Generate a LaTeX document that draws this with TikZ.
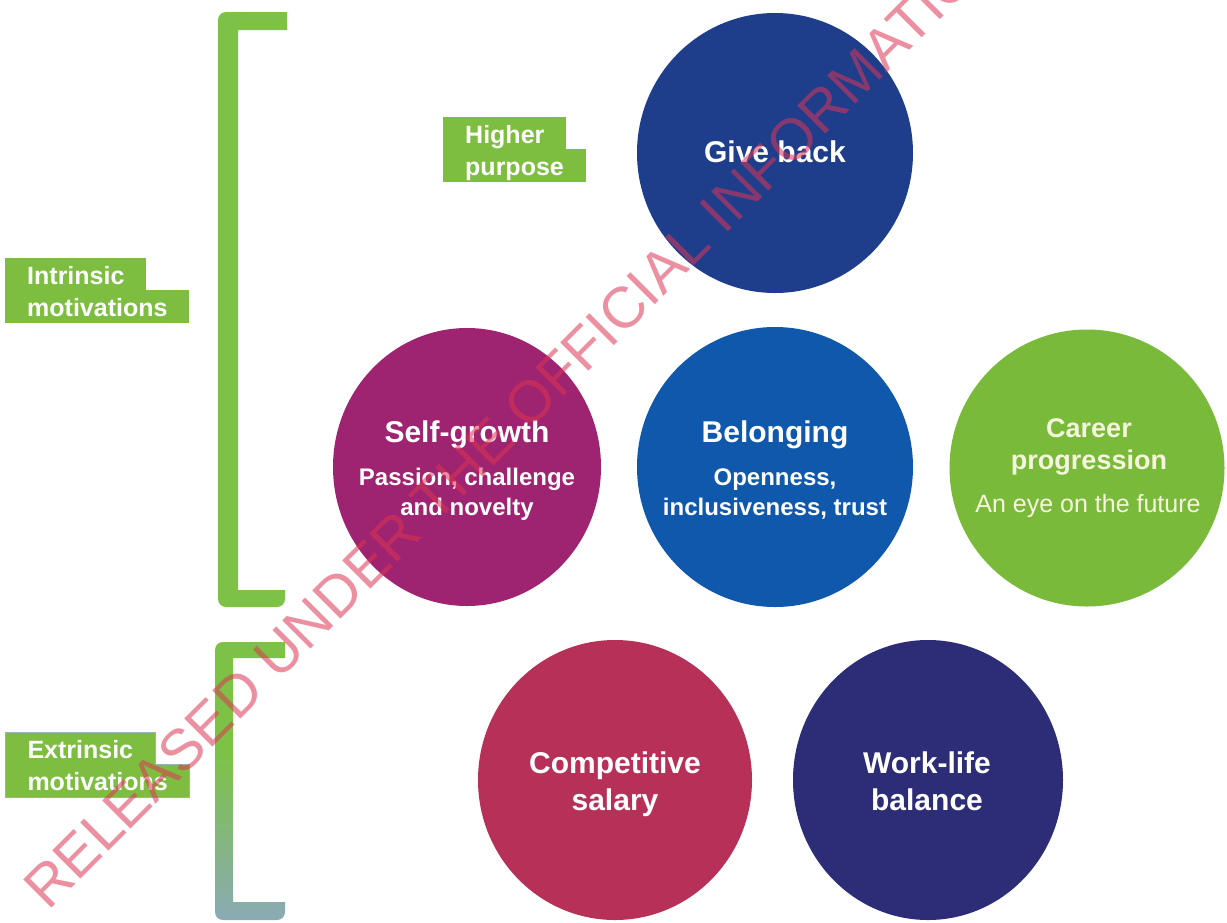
\documentclass[tikz,border=0pt]{standalone}
\usepackage{fontspec}
\setmainfont{Liberation Sans}
\usetikzlibrary{shapes.geometric}

\definecolor{tagGreen}{RGB}{125,190,65}
\definecolor{barGreen}{RGB}{125,194,70}
\definecolor{barBlue}{RGB}{140,168,192}
\definecolor{tagEdge}{RGB}{150,180,180}
\definecolor{giveBlue}{RGB}{30,62,140}
\definecolor{selfPlum}{RGB}{158,35,112}
\definecolor{belongBlue}{RGB}{16,88,172}
\definecolor{careerGreen}{RGB}{122,186,58}
\definecolor{salaryRose}{RGB}{182,48,88}
\definecolor{workNavy}{RGB}{44,45,118}
\definecolor{creamText}{RGB}{246,246,222}
\definecolor{stampRed}{RGB}{222,52,82}

% lower bracket: green at the top, fading to grey-blue near its foot
\pgfdeclareverticalshading{bracketfade}{100bp}{%
  color(0bp)=(barBlue); color(22bp)=(barBlue); color(55bp)=(barGreen); color(100bp)=(barGreen)}

\tikzset{
  disc/.style={ellipse, inner sep=0pt, draw=none},
  headline/.style={anchor=base, inner sep=0pt, text=white,
    font=\bfseries\fontsize{30pt}{30pt}\selectfont},
  subline/.style={anchor=base, inner sep=0pt, text=white,
    font=\bfseries\fontsize{24pt}{24pt}\selectfont},
  tagline/.style={anchor=north west, fill=tagGreen, text=white,
    font=\bfseries\fontsize{25pt}{25pt}\selectfont,
    inner xsep=22pt, inner ysep=0pt, text height=26pt, text depth=7pt},
  stamptext/.style={anchor=base west, inner sep=0pt, rotate=45,
    text=stampRed, text opacity=0.55,
    font=\fontsize{58pt}{58pt}\selectfont}
}

\begin{document}
\begin{tikzpicture}[x=1pt,y=-1pt]
\useasboundingbox (0,0) rectangle (1227,922);
\fill[white] (0,0) rectangle (1227,922);

% brackets grouping the two kinds of motivation
\fill[barGreen] (287,12) [rounded corners=8pt] -- (218,12) -- (218,607) -- (285,607)
  [sharp corners] -- (285,590) -- (238,590) -- (238,30) -- (287,30) -- cycle;
\shade[shading=bracketfade]
  (285,642) [rounded corners=8pt] -- (215,642) -- (215,920) -- (285,920)
  [sharp corners] -- (285,902) -- (233,902) -- (233,658) -- (285,658) -- cycle;

% group labels
\node[tagline] (intrB) at (5,290) {motivations};
\node[tagline] (intrA) at (5,258) {Intrinsic};
\node[tagline, draw=tagEdge, line width=1pt] (extrB) at (5,764) {motivations};
\node[tagline, draw=tagEdge, line width=1pt] (extrA) at (5,732) {Extrinsic};
\fill[tagGreen] (5.6,762) rectangle (152.4,766);
\node[tagline] (higherB) at (443,149) {purpose};
\node[tagline] (higherA) at (443,117) {Higher};

% motivation discs
\node[disc, fill=giveBlue, minimum width=276pt, minimum height=280pt] (give) at (775,153) {};
\node[disc, fill=selfPlum, minimum width=268pt, minimum height=278pt] (self) at (467,467) {};
\node[disc, fill=belongBlue, minimum width=276pt, minimum height=280pt] (belong) at (775,467) {};
\node[disc, fill=careerGreen, minimum width=275pt, minimum height=277pt] (career) at (1087,468) {};
\node[disc, fill=salaryRose, minimum width=274pt, minimum height=280pt] (salary) at (615,780) {};
\node[disc, fill=workNavy, minimum width=270pt, minimum height=280pt] (work) at (928,780) {};

% disc texts
\node[headline] (giveT) at (775,162) {Give back};

\node[headline] (selfT) at (467,442) {Self-growth};
\node[subline] (selfS1) at (467,485) {Passion, challenge};
\node[subline] (selfS2) at (467,515) {and novelty};

\node[headline] (belongT) at (775,442) {Belonging};
\node[subline] (belongS1) at (775,485) {Openness,};
\node[subline] (belongS2) at (775,515) {inclusiveness, trust};

\node[headline, text=creamText, font=\bfseries\fontsize{27pt}{27pt}\selectfont] (careerT1) at (1089,437) {Career};
\node[headline, text=creamText, font=\bfseries\fontsize{27pt}{27pt}\selectfont] (careerT2) at (1089,469) {progression};
\node[subline, text=creamText, font=\fontsize{25pt}{25pt}\selectfont] (careerS) at (1088,512) {An eye on the future};

\node[headline] (salaryT1) at (615,773) {Competitive};
\node[headline] (salaryT2) at (615,810) {salary};

\node[headline] (workT1) at (927,773) {Work-life};
\node[headline] (workT2) at (927,810) {balance};

% release stamp across the page
\begin{scope}
\clip (0,0) rectangle (1227,922);
\node[stamptext] (stamp) at (48,912) {RELEASED UNDER THE OFFICIAL INFORMATION ACT};
\end{scope}
\end{tikzpicture}
\end{document}
